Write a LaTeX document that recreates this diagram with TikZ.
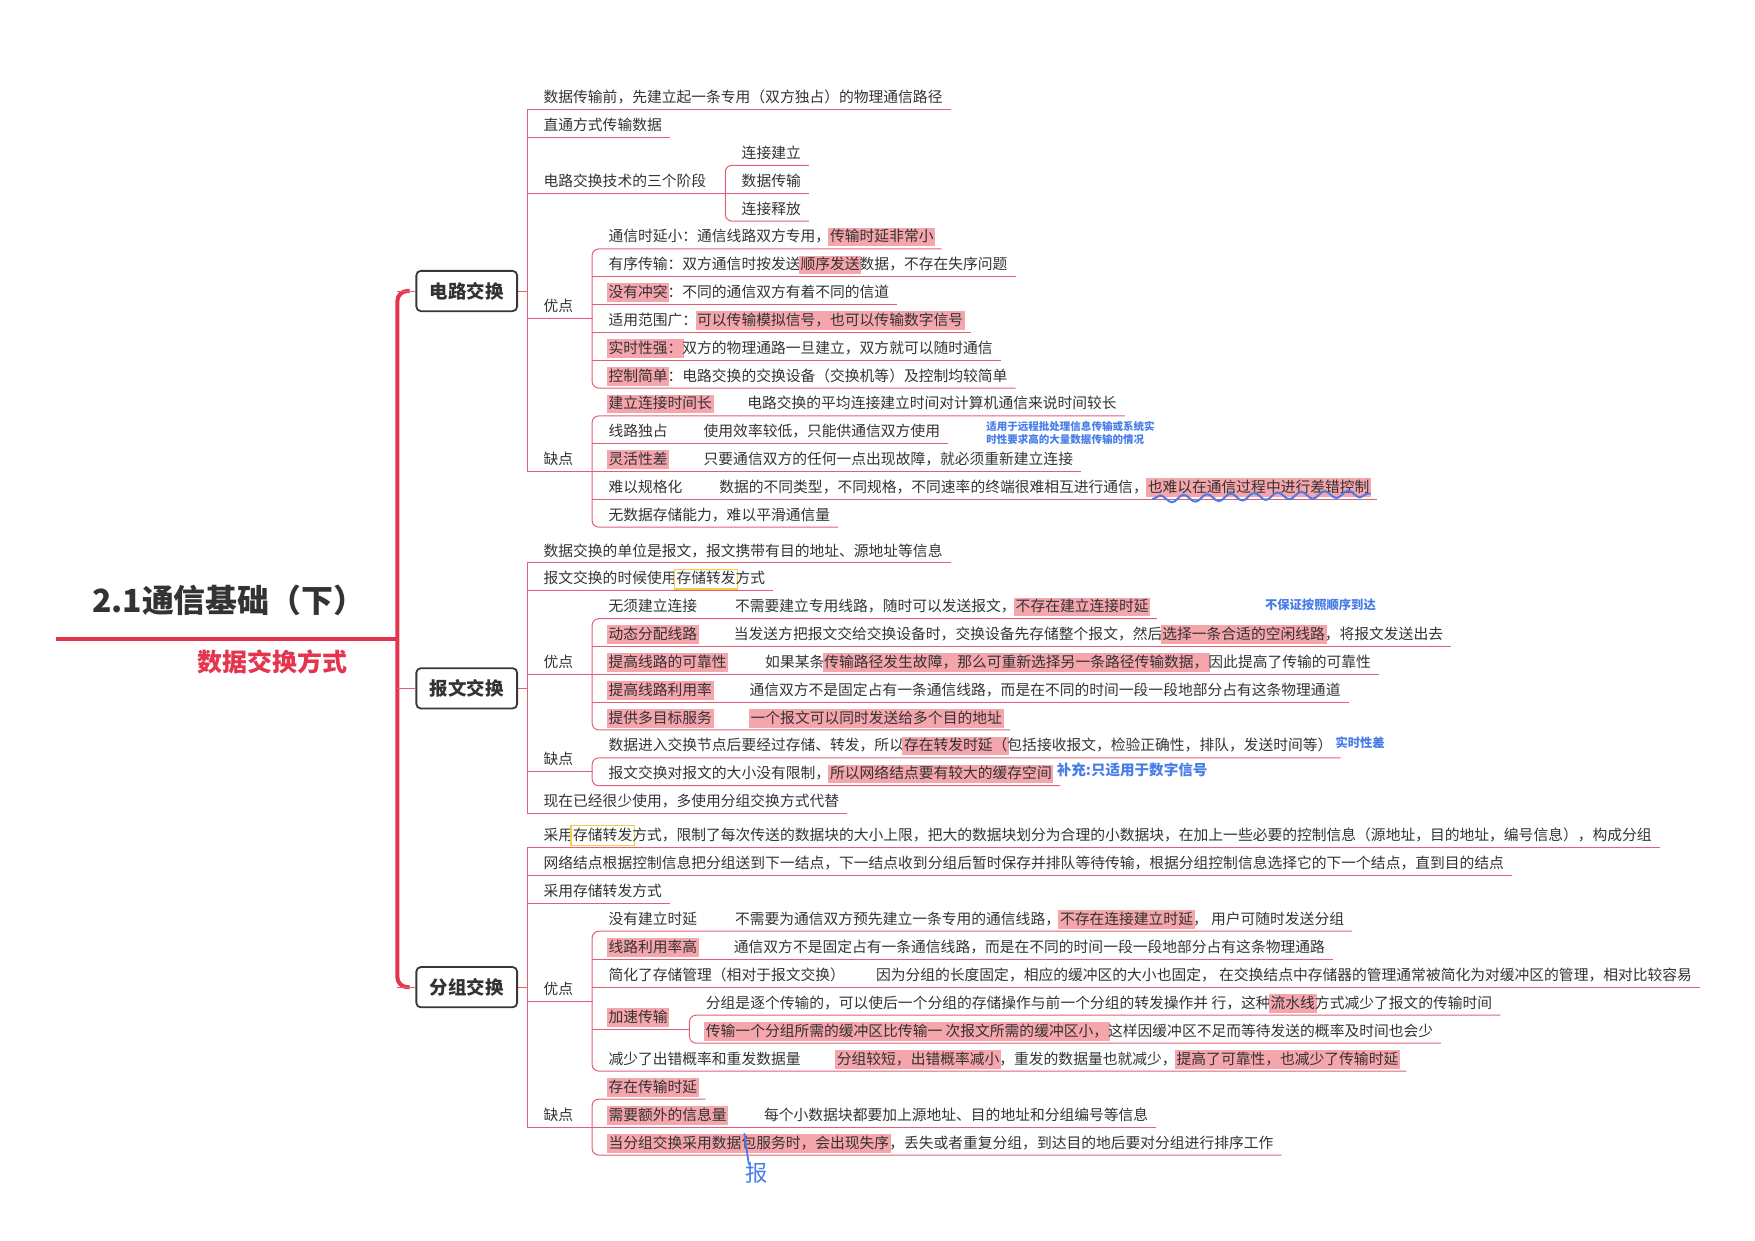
\documentclass[tikz,border=0pt]{standalone}
\usepackage{fontspec}
\setmainfont{Noto Sans CJK SC}
\usetikzlibrary{decorations.pathmorphing}
\definecolor{txt}{RGB}{51,51,51}
\definecolor{mainred}{RGB}{228,52,78}
\definecolor{lnred}{RGB}{226,95,115}
\definecolor{hlpink}{RGB}{245,165,172}
\definecolor{yel}{RGB}{245,205,70}
\definecolor{notec}{RGB}{72,125,232}
\definecolor{boxgray}{RGB}{55,55,55}
\setlength\fboxsep{1.5pt}
\setlength\fboxrule{1pt}
\newcommand\hl[1]{\kern-1.5pt\colorbox{hlpink}{\rule[-2.5pt]{0pt}{13.5pt}#1}\kern-1.5pt}
\newcommand\yb[1]{\kern-2.5pt\fcolorbox{yel}{white}{\rule[-2.5pt]{0pt}{13.5pt}#1}\kern-2.5pt}
\newcommand\two[3]{\makebox[#1pt][l]{#2}#3}
\begin{document}
\begin{tikzpicture}[x=1pt,y=-1pt,
  item/.style={anchor=south west, inner sep=0pt, text height=12pt, text depth=6pt, text=txt,
    font=\fontsize{13.2pt}{15pt}\selectfont,
    execute at begin node=\hspace*{14.5pt}, execute at end node=\hspace*{7pt}},
  pitem/.style={anchor=south west, inner sep=0pt, text height=12pt, text depth=6pt, text=txt,
    font=\fontsize{13.2pt}{15pt}\selectfont},
  ul/.style={draw=lnred, line width=0.9pt},
  mainline/.style={draw=mainred, line width=3.6pt},
  mainbox/.style={draw=boxgray, line width=1.6pt, rounded corners=4pt, fill=white,
    minimum width=90pt, minimum height=36pt, inner sep=0pt, text=txt,
    font=\bfseries\fontsize{16.5pt}{18pt}\selectfont},
  notetxt/.style={text=notec, inner sep=0pt, font=\bfseries\fontsize{11pt}{12pt}\selectfont, anchor=west}
]
\useasboundingbox (0,0) rectangle (1568,1108);

% ---------- title ----------
\node[anchor=base west, inner sep=0pt, text=txt, font=\bfseries\fontsize{28.5pt}{30pt}\selectfont] (title) at (82,547.5) {2.1通信基础（下）};
\node[anchor=base west, inner sep=0pt, text=mainred, font=\bfseries\fontsize{22.3pt}{24pt}\selectfont] (sub) at (176,599.5) {数据交换方式};
\coordinate (tl) at (50,571);
\coordinate (sp0) at (356,571);
\draw[mainline] (tl) -- (sp0);

% ---------- main boxes ----------
\node[mainbox] (b1) at (417,260) {电路交换};
\node[mainbox] (b2) at (417,615) {报文交换};
\node[mainbox] (b3) at (417,882) {分组交换};
\coordinate (st) at (355,260);
\coordinate (sm) at (355,615);
\coordinate (sb) at (355,882);
\draw[mainline, rounded corners=9pt] (366,260) -- (st) -- (sb) -- (366,882);
\draw[ul] (st) -- (b1.west);
\draw[ul] (sm) -- (b2.west);
\draw[ul] (sb) -- (b3.west);

% ================= 电路交换 =================
\node[item] (a1) at (471,98) {数据传输前，先建立起一条专用（双方独占）的物理通信路径};
\node[item] (a2) at (471,122.9) {直通方式传输数据};
\node[pitem] (a3) at (471,172.6) {\makebox[177pt][l]{\hspace*{14.5pt}电路交换技术的三个阶段}};
\node[item] (a31) at (648,147.7) {连接建立};
\node[item] (a32) at (648,172.6) {数据传输};
\node[item] (a33) at (648,197.5) {连接释放};
\node[pitem] (a4) at (471,284.5) {\makebox[58pt][l]{\hspace*{14.5pt}优点}};
\node[item] (a41) at (529,222.4) {通信时延小：通信线路双方专用，\hl{传输时延非常小}};
\node[item] (a42) at (529,247.2) {有序传输：双方通信时按发送\hl{顺序发送}数据，不存在失序问题};
\node[item] (a43) at (529,272.1) {\hl{没有冲突}：不同的通信双方有着不同的信道};
\node[item] (a44) at (529,297.0) {适用范围广：\hl{可以传输模拟信号，也可以传输数字信号}};
\node[item] (a45) at (529,321.8) {\hl{实时性强：}双方的物理通路一旦建立，双方就可以随时通信};
\node[item] (a46) at (529,346.7) {\hl{控制简单}：电路交换的交换设备（交换机等）及控制均较简单};
\node[pitem] (a5) at (471,421.3) {\makebox[58pt][l]{\hspace*{14.5pt}缺点}};
\node[item] (a51) at (529,371.6) {\two{124}{\hl{建立连接时间长}}{电路交换的平均连接建立时间对计算机通信来说时间较长}};
\node[item] (a52) at (529,396.4) {\two{85}{线路独占}{使用效率较低，只能供通信双方使用}};
\node[item] (a53) at (529,421.3) {\two{85}{\hl{灵活性差}}{只要通信双方的任何一点出现故障，就必须重新建立连接}};
\node[item] (a54) at (529,446.2) {\two{99}{难以规格化}{数据的不同类型，不同规格，不同速率的终端很难相互进行通信，\hl{也难以在通信过程中进行差错控制}}};
\node[item] (a55) at (529,471.0) {无数据存储能力，难以平滑通信量};

\coordinate (s1) at (471,260);
\draw[ul] (b1.east) -- (s1);
\draw[ul] (a1.south west) -- (a5.south west);
\foreach \n in {a1,a2,a3,a32,a4,a42,a43,a44,a45,a5,a52,a53,a54}
  \draw[ul] (\n.south west) -- (\n.south east);
\draw[ul, rounded corners=6pt] (a31.south east) -- (a31.south west) -- (a33.south west) -- (a33.south east);
\draw[ul, rounded corners=6pt] (a41.south east) -- (a41.south west) -- (a46.south west) -- (a46.south east);
\draw[ul, rounded corners=6pt] (a51.south east) -- (a51.south west) -- (a55.south west) -- (a55.south east);

% ================= 报文交换 =================
\node[item] (m1) at (471,503) {数据交换的单位是报文，报文携带有目的地址、源地址等信息};
\node[item] (m2) at (471,527.9) {报文交换的时候使用\yb{存储转发}方式};
\node[pitem] (m3) at (471,602.5) {\makebox[58pt][l]{\hspace*{14.5pt}优点}};
\node[item] (m31) at (529,552.7) {\two{113}{无须建立连接}{不需要建立专用线路，随时可以发送报文，\hl{不存在建立连接时延}}};
\node[item] (m32) at (529,577.6) {\two{112}{\hl{动态分配线路}}{当发送方把报文交给交换设备时，交换设备先存储整个报文，然后\hl{选择一条合适的空闲线路}，将报文发送出去}};
\node[item] (m33) at (529,602.5) {\two{140}{\hl{提高线路的可靠性}}{如果某条\hl{传输路径发生故障，那么可重新选择另一条路径传输数据，} 因此提高了传输的可靠性}};
\node[item] (m34) at (529,627.4) {\two{126}{\hl{提高线路利用率}}{通信双方不是固定占有一条通信线路，而是在不同的时间一段一段地部分占有这条物理通道}};
\node[item] (m35) at (529,652.2) {\two{127}{\hl{提供多目标服务}}{\hl{一个报文可以同时发送给多个目的地址}}};
\node[pitem] (m4) at (471,689.5) {\makebox[58pt][l]{\hspace*{14.5pt}缺点}};
\node[item] (m41) at (529,677.1) {数据进入交换节点后要经过存储、转发，所以\hl{存在转发时延（}包括接收报文，检验正确性，排队，发送时间等）};
\node[item] (m42) at (529,702) {报文交换对报文的大小没有限制，\hl{所以网络结点要有较大的缓存空间}};
\node[item] (m5) at (471,726.8) {现在已经很少使用，多使用分组交换方式代替};

\coordinate (s2) at (471,615);
\draw[ul] (b2.east) -- (s2);
\draw[ul] (m1.south west) -- (m5.south west);
\foreach \n in {m1,m2,m3,m32,m33,m34,m4,m5}
  \draw[ul] (\n.south west) -- (\n.south east);
\draw[ul, rounded corners=6pt] (m31.south east) -- (m31.south west) -- (m35.south west) -- (m35.south east);
\draw[ul, rounded corners=6pt] (m41.south east) -- (m41.south west) -- (m42.south west) -- (m42.south east);

% ================= 分组交换 =================
\node[item] (p1) at (471,757) {采用\yb{存储转发}方式，限制了每次传送的数据块的大小上限，把大的数据块划分为合理的小数据块，在加上一些必要的控制信息（源地址，目的地址，编号信息），构成分组};
\node[item] (p2) at (471,782) {网络结点根据控制信息把分组送到下一结点，下一结点收到分组后暂时保存并排队等待传输，根据分组控制信息选择它的下一个结点，直到目的结点};
\node[item] (p3) at (471,807) {采用存储转发方式};
\node[pitem] (p4) at (471,894.5) {\makebox[58pt][l]{\hspace*{14.5pt}优点}};
\node[item] (p41) at (529,832) {\two{113}{没有建立时延}{不需要为通信双方预先建立一条专用的通信线路，\hl{不存在连接建立时延}， 用户可随时发送分组}};
\node[item] (p42) at (529,857) {\two{112}{\hl{线路利用率高}}{通信双方不是固定占有一条通信线路，而是在不同的时间一段一段地部分占有这条物理通路}};
\node[item] (p43) at (529,882) {\two{239}{简化了存储管理（相对于报文交换）}{因为分组的长度固定，相应的缓冲区的大小也固定， 在交换结点中存储器的管理通常被简化为对缓冲区的管理，相对比较容易}};
\node[pitem] (p44) at (529,919.5) {\makebox[87pt][l]{\hspace*{14.5pt}\hl{加速传输}}};
\node[item] (p441) at (616,907) {分组是逐个传输的，可以使后一个分组的存储操作与前一个分组的转发操作并 行，这种\hl{流水线}方式减少了报文的传输时间};
\node[item] (p442) at (616,932) {\hl{传输一个分组所需的缓冲区比传输一 次报文所需的缓冲区小，}这样因缓冲区不足而等待发送的概率及时间也会少};
\node[item] (p45) at (529,957) {\two{204}{减少了出错概率和重发数据量}{\hl{分组较短，出错概率减小}，重发的数据量也就减少，\hl{提高了可靠性，也减少了传输时延}}};
\node[pitem] (p5) at (471,1007) {\makebox[58pt][l]{\hspace*{14.5pt}缺点}};
\node[item] (p51) at (529,982) {\hl{存在传输时延}};
\node[item] (p52) at (529,1007) {\two{139}{\hl{需要额外的信息量}}{每个小数据块都要加上源地址、目的地址和分组编号等信息}};
\node[item] (p53) at (529,1032) {\hl{当分组交换采用数据包服务时，会出现失序}，丢失或者重复分组，到达目的地后要对分组进行排序工作};

\coordinate (s3) at (471,882);
\draw[ul] (b3.east) -- (s3);
\draw[ul] (p1.south west) -- (p5.south west);
\foreach \n in {p1,p2,p3,p4,p42,p43,p44,p5,p52}
  \draw[ul] (\n.south west) -- (\n.south east);
\draw[ul, rounded corners=6pt] (p41.south east) -- (p41.south west) -- (p45.south west) -- (p45.south east);
\draw[ul, rounded corners=6pt] (p441.south east) -- (p441.south west) -- (p442.south west) -- (p442.south east);
\draw[ul, rounded corners=6pt] (p51.south east) -- (p51.south west) -- (p53.south west) -- (p53.south east);

% ================= blue notes =================
\node[notetxt, anchor=north west, align=left, font=\bfseries\fontsize{9.4pt}{11pt}\selectfont] (n1) at (881,376.5) {适用于远程批处理信息传输或系统实\\时性要求高的大量数据传输的情况};
\node[notetxt] (n2) at (1130,540) {不保证按照顺序到达};
\node[notetxt] (n3) at (1193,664) {实时性差};
\node[notetxt, font=\bfseries\fontsize{13pt}{14pt}\selectfont] (n4) at (944,688) {补充:只适用于数字信号};
\coordinate (w1) at (1030,446);
\coordinate (w2) at (1224,441);
\draw[notec, line width=1.8pt, line cap=round, decorate, decoration={snake, amplitude=3.2pt, segment length=21pt}] (w1) -- (w2);
\coordinate (h1) at (665,1013);
\coordinate (h2) at (669,1040);
\draw[notec, line width=1.6pt, line cap=round] (h1) -- (h2);
\node[notetxt, anchor=center, font=\fontsize{20pt}{20pt}\selectfont] (hw) at (676,1048) {报};
\end{tikzpicture}
\end{document}
